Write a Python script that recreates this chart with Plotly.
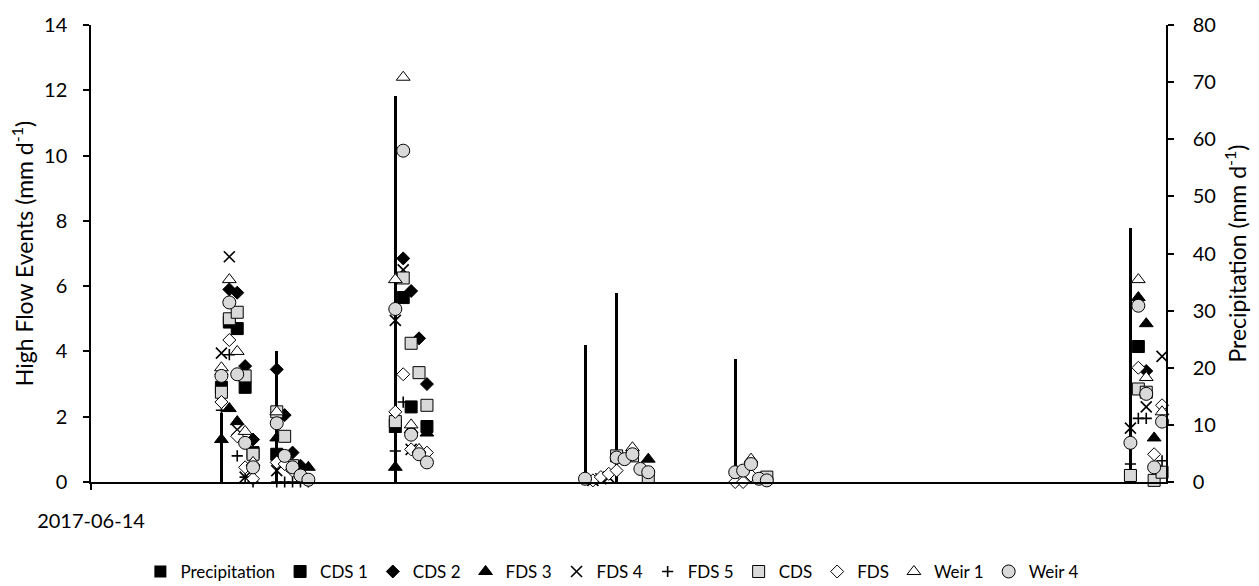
import pandas as pd
import plotly.graph_objects as go

# Daily observations for the six high-flow events of 2017
dates = [
    "2017-06-30", "2017-07-01", "2017-07-02", "2017-07-03", "2017-07-04",
    "2017-07-07", "2017-07-08", "2017-07-09", "2017-07-10", "2017-07-11",
    "2017-07-22", "2017-07-23", "2017-07-24", "2017-07-25", "2017-07-26",
    "2017-08-15", "2017-08-16", "2017-08-17", "2017-08-18", "2017-08-19",
    "2017-08-20", "2017-08-21", "2017-08-22", "2017-08-23",
    "2017-09-03", "2017-09-04", "2017-09-05", "2017-09-06", "2017-09-07",
    "2017-10-23", "2017-10-24", "2017-10-25", "2017-10-26", "2017-10-27",
]

# Precipitation (mm d-1, right axis)
precipitation = [
    12, 0, 0, 0, 0,
    23, 0, 0, 0, 0,
    67.5, 0, 0, 0, 0,
    24, 0, 0, 0, 33, 0, 0, 0, 0,
    21.5, 0, 0, 0, 0,
    44.5, 0, 0, 0, 0,
]

# High flow events (mm d-1, left axis)
cds_1 = [
    2.9, 4.9, 4.7, 2.9, 0.9,
    0.85, 0.7, None, None, None,
    1.7, 5.65, 2.3, None, 1.7,
    None, None, None, None, None, None, None, None, None,
    None, None, None, None, None,
    None, 4.15, None, None, None,
]
cds_2 = [
    3.3, 5.9, 5.8, 3.55, 1.3,
    3.45, 2.05, 0.9, 0.5, None,
    1.9, 6.85, 5.85, 4.4, 3.0,
    None, None, None, None, None, None, None, None, None,
    None, None, None, None, None,
    None, None, 3.4, None, None,
]
fds_3 = [
    1.3, 2.25, 1.85, None, None,
    1.35, None, None, None, 0.45,
    0.45, None, 1.6, None, 1.5,
    None, None, None, None, None, None, None, None, 0.7,
    None, None, None, None, None,
    None, 5.65, 4.85, 1.35, None,
]
fds_4 = [
    3.95, 6.9, 1.6, 0.15, None,
    0.35, None, None, None, None,
    4.95, 6.5, 1.0, None, None,
    None, 0.05, 0.1, 0.15, None, None, None, None, None,
    None, None, None, None, None,
    1.65, None, 2.3, None, 3.85,
]
fds_5 = [
    2.2, 3.9, 0.8, 0.15, 0.0,
    0.0, 0.0, 0.0, 0.0, 0.0,
    0.95, 2.45, None, None, None,
    None, None, None, None, None, None, None, None, None,
    None, None, None, None, None,
    0.55, 1.95, 1.95, None, 0.65,
]
cds = [
    2.75, 5.0, 5.2, 3.25, 0.85,
    2.15, 1.4, 0.5, None, None,
    1.85, 6.25, 4.25, 3.35, 2.35,
    None, None, None, None, 0.8, None, 0.8, None, 0.15,
    None, None, None, None, 0.15,
    0.2, 2.85, 2.75, 0.05, 0.3,
]
fds = [
    2.45, 4.35, 1.4, 0.45, 0.1,
    0.6, 0.55, 0.35, None, None,
    2.15, 3.3, 1.0, None, 0.9,
    None, 0.05, 0.15, 0.25, 0.35, None, None, None, None,
    0.0, 0.0, 0.2, None, None,
    None, 3.5, None, 0.85, 2.35,
]
weir_1 = [
    3.5, 6.2, 4.0, 1.55, 0.6,
    2.15, None, None, None, None,
    6.2, 12.4, 1.75, 1.0, None,
    None, None, None, None, None, None, 1.05, None, None,
    None, None, 0.7, None, None,
    None, 6.2, 3.2, None, 2.15,
]
weir_4 = [
    3.25, 5.5, 3.3, 1.2, 0.45,
    1.8, 0.8, 0.45, 0.2, 0.07,
    5.3, 10.15, 1.45, 0.85, 0.6,
    0.1, None, None, None, 0.75, 0.7, 0.85, 0.4, 0.3,
    0.3, 0.35, 0.55, 0.1, 0.05,
    1.2, 5.4, 2.7, 0.45, 1.85,
]

# Each daily value sits in the middle of its day slot on the date axis
x = pd.to_datetime(dates) + pd.Timedelta(hours=12)
day_ms = 86400000

FONT = "Lato"
GREY = "#d9d9d9"

fig = go.Figure()

fig.add_trace(go.Bar(
    x=x, y=precipitation, name="Precipitation", yaxis="y",
    width=0.38 * day_ms, marker=dict(color="black", line=dict(width=0)),
))

series = [
    ("CDS 1", cds_1, dict(symbol="square", size=12, color="black",
                          line=dict(color="black", width=1))),
    ("CDS 2", cds_2, dict(symbol="diamond", size=10, color="black",
                          line=dict(color="black", width=1))),
    ("FDS 3", fds_3, dict(symbol="triangle-up", size=12, color="black",
                          line=dict(color="black", width=1))),
    ("FDS 4", fds_4, dict(symbol="x-thin", size=11,
                          line=dict(color="black", width=1.6))),
    ("FDS 5", fds_5, dict(symbol="cross-thin", size=8,
                          line=dict(color="black", width=1.6))),
    ("CDS", cds, dict(symbol="square", size=12, color=GREY,
                      line=dict(color="black", width=1))),
    ("FDS", fds, dict(symbol="diamond", size=10, color="white",
                      line=dict(color="black", width=1))),
    ("Weir 1", weir_1, dict(symbol="triangle-up", size=12, color="white",
                            line=dict(color="black", width=1))),
    ("Weir 4", weir_4, dict(symbol="circle", size=13, color=GREY,
                            line=dict(color="black", width=1))),
]
for name, values, marker in series:
    fig.add_trace(go.Scatter(
        x=x, y=values, name=name, mode="markers", yaxis="y2",
        marker=marker, cliponaxis=False,
    ))

axis_common = dict(
    showline=True, linecolor="black", linewidth=1.5,
    ticks="outside", tickcolor="black", tickwidth=1.5, ticklen=6,
    showgrid=False, zeroline=False,
    tickfont=dict(family=FONT, size=20, color="black"),
)

fig.update_layout(
    width=1259, height=586,
    margin=dict(l=91, r=93, t=17, b=104),
    paper_bgcolor="white", plot_bgcolor="white",
    font=dict(family=FONT, size=20, color="black"),
    bargap=0,
    xaxis=dict(
        type="date", range=["2017-06-14", "2017-10-28"],
        tickvals=["2017-06-14"], ticktext=["2017-06-14"],
        ticklabelstandoff=14,
        **axis_common,
    ),
    yaxis=dict(
        range=[0, 80], dtick=10, side="right",
        ticklabelstandoff=15,
        title=dict(text="Precipitation (mm d<sup>-1</sup>)",
                   font=dict(family=FONT, size=23), standoff=15),
        **axis_common,
    ),
    yaxis2=dict(
        range=[0, 14], dtick=2, side="left", overlaying="y",
        ticklabelstandoff=12,
        title=dict(text="High Flow Events (mm d<sup>-1</sup>)",
                   font=dict(family=FONT, size=23), standoff=4),
        **axis_common,
    ),
    legend=dict(
        orientation="h", x=0.485, xanchor="center",
        yref="container", y=0.024, yanchor="middle",
        font=dict(family=FONT, size=17, color="black"),
        itemwidth=30, bgcolor="rgba(0,0,0,0)",
    ),
    showlegend=True,
)

fig.write_html("out.html")
